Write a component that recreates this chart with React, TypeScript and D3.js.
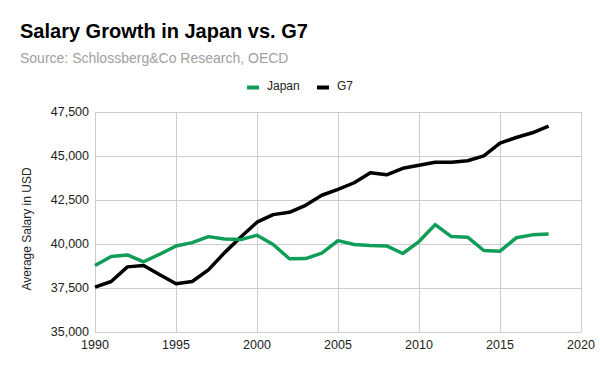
import { useEffect, useRef } from "react";
import * as d3 from "d3";

const years = d3.range(1990, 2019);
const japan = [
  38780, 39290, 39380, 38990, 39420, 39890, 40080, 40420, 40290, 40250,
  40500, 39970, 39160, 39170, 39480, 40190, 39970, 39910, 39890, 39460,
  40140, 41100, 40420, 40390, 39630, 39590, 40350, 40520, 40570,
];
const g7 = [
  37550, 37870, 38700, 38780, 38250, 37740, 37870, 38530, 39510, 40400,
  41240, 41670, 41800, 42200, 42770, 43100, 43480, 44050, 43930, 44300,
  44470, 44640, 44640, 44730, 45010, 45730, 46050, 46320, 46700,
];
const yTicks = [35000, 37500, 40000, 42500, 45000, 47500];
const xTicks = [1990, 1995, 2000, 2005, 2010, 2015, 2020];

const series = [
  { name: "Japan", values: japan, color: "#0f9d58" },
  { name: "G7", values: g7, color: "#000000" },
];

const W = 600;
const H = 371;
const margin = { top: 112, right: 19, bottom: 39, left: 95 };

const App = () => {
  const ref = useRef<SVGSVGElement>(null);

  useEffect(() => {
    const svg = d3.select(ref.current);
    svg.selectAll("*").remove();
    const font = "'Liberation Sans', Arial, sans-serif";

    const x = d3.scaleLinear().domain([1990, 2020]).range([margin.left, W - margin.right]);
    const y = d3.scaleLinear().domain([35000, 47500]).range([H - margin.bottom, margin.top]);

    svg.append("rect").attr("width", W).attr("height", H).attr("fill", "#fff");

    // title and source
    svg.append("text")
      .attr("x", 20).attr("y", 38)
      .text("Salary Growth in Japan vs. G7")
      .style("font-family", font).style("font-size", "20px").style("font-weight", 700)
      .attr("fill", "#000");
    svg.append("text")
      .attr("x", 20).attr("y", 63)
      .text("Source: Schlossberg&Co Research, OECD")
      .style("font-family", font).style("font-size", "14px")
      .attr("fill", "#a0a0a0");

    // legend
    const legendPos = [247, 317];
    series.forEach((s, i) => {
      const g = svg.append("g").attr("transform", `translate(${legendPos[i]},85)`);
      g.append("rect").attr("x", 0).attr("y", 0.5).attr("width", 12).attr("height", 4).attr("fill", s.color);
      g.append("text").attr("x", 20).attr("y", 5).text(s.name)
        .style("font-family", font).style("font-size", "12px").attr("fill", "#222");
    });

    // grid
    svg.append("g").selectAll("line").data(yTicks).join("line")
      .attr("x1", margin.left).attr("x2", W - margin.right)
      .attr("y1", (d) => y(d)).attr("y2", (d) => y(d))
      .attr("stroke", "#cccccc").attr("stroke-width", 1).attr("shape-rendering", "crispEdges");
    svg.append("g").selectAll("line").data(xTicks).join("line")
      .attr("x1", (d) => x(d)).attr("x2", (d) => x(d))
      .attr("y1", margin.top).attr("y2", H - margin.bottom)
      .attr("stroke", "#cccccc").attr("stroke-width", 1).attr("shape-rendering", "crispEdges");

    // axis labels
    svg.append("g").selectAll("text").data(yTicks).join("text")
      .attr("x", margin.left - 6).attr("y", (d) => y(d) + 4)
      .attr("text-anchor", "end")
      .text((d) => d3.format(",")(d))
      .style("font-family", font).style("font-size", "12.5px").attr("fill", "#222");
    svg.append("g").selectAll("text").data(xTicks).join("text")
      .attr("x", (d) => x(d)).attr("y", H - margin.bottom + 17)
      .attr("text-anchor", "middle")
      .text((d) => String(d))
      .style("font-family", font).style("font-size", "12.5px").attr("fill", "#222");

    svg.append("text")
      .attr("transform", `translate(31,229) rotate(-90)`)
      .attr("text-anchor", "middle")
      .text("Average Salary in USD")
      .style("font-family", font).style("font-size", "12px").attr("fill", "#222");

    // lines
    const line = d3.line<number>()
      .x((_, i) => x(years[i]))
      .y((d) => y(d));
    series.slice().reverse().forEach((s) => {
      svg.append("path")
        .datum(s.values)
        .attr("d", line)
        .attr("fill", "none")
        .attr("stroke", s.color)
        .attr("stroke-width", 3.5)
        .attr("stroke-linejoin", "round");
    });
  }, []);

  return <svg ref={ref} width={W} height={H} style={{ position: "absolute", left: 0, top: 0 }} />;
};

export default App;
